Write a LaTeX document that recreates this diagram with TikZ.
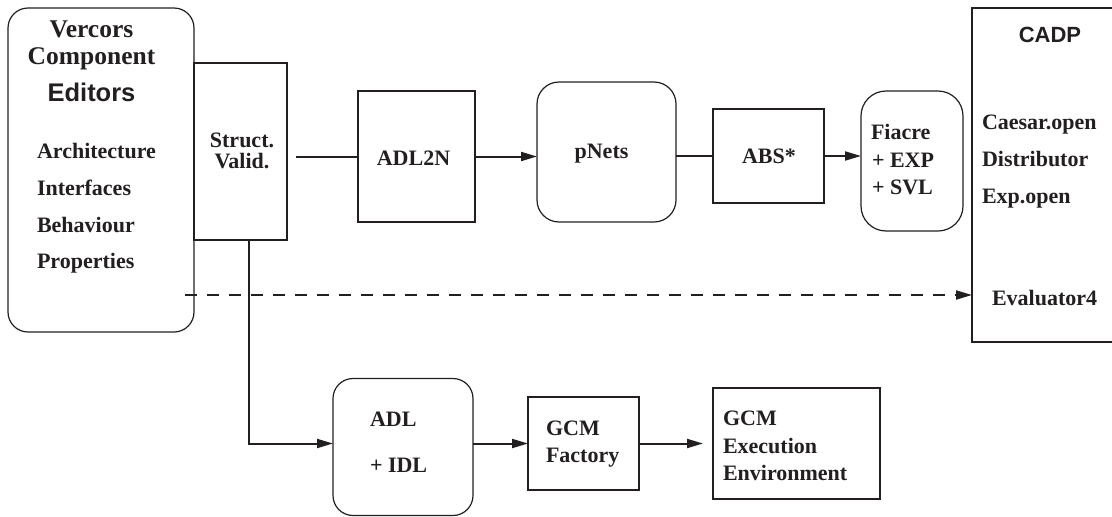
\documentclass[tikz,border=0pt]{standalone}
\usepackage{fontspec}
\setmainfont{Liberation Serif}
\newfontfamily\hsans{Liberation Sans}
\usetikzlibrary{arrows.meta}
\definecolor{ink}{RGB}{35,31,32}
\begin{document}
\begin{tikzpicture}[x=1pt,y=-1pt,
  every node/.style={inner sep=0pt,outer sep=0pt,text=ink},
  sqbox/.style={draw=ink,line width=2pt,rectangle},
  rbox/.style={draw=ink,line width=1.2pt,rectangle,rounded corners=#1},
  rbox/.default=20pt,
  txt/.style={font=\fontsize{22}{26}\selectfont\bfseries,anchor=base west},
  ttl/.style={font=\fontsize{25.5}{30}\selectfont\bfseries,anchor=base},
  conn/.style={draw=ink,line width=2pt},
  arr/.style={conn,-{Triangle[length=16pt,width=9pt]}},
  darr/.style={arr,dash pattern=on 12pt off 10pt}
]
\useasboundingbox (0,0) rectangle (1112,517);
\clip (0,0) rectangle (1112,517);
% boxes
\node[rbox=20pt,minimum width=186pt,minimum height=324pt] (ver) at (101,170) {};
\node[sqbox,minimum width=93pt,minimum height=177pt] (sv) at (240.5,151.5) {};
\node[sqbox,minimum width=117pt,minimum height=131pt] (a2n) at (416.5,156.5) {};
\node[rbox=22pt,minimum width=139pt,minimum height=140pt] (pn) at (606.5,152) {};
\node[sqbox,minimum width=111pt,minimum height=94pt] (abs) at (768.5,156) {};
\node[rbox=25pt,minimum width=102pt,minimum height=140pt] (fia) at (912,161) {};
\node[sqbox,minimum width=158pt,minimum height=334pt] (cadp) at (1051,175) {};
\node[rbox=20pt,minimum width=140pt,minimum height=137pt] (adl) at (403,447) {};
\node[sqbox,minimum width=111pt,minimum height=93pt] (gf) at (583.5,443.5) {};
\node[sqbox,minimum width=167pt,minimum height=111pt] (ge) at (796.5,443.5) {};
% texts
\node[ttl] (t1) at (91.5,37) {Vercors};
\node[ttl] (t2) at (91.5,64) {Component};
\node[ttl,font=\fontsize{25.5}{30}\selectfont\bfseries\hsans] (t3) at (91.5,101) {Editors};
\node[txt] (t4) at (37,158) {Architecture};
\node[txt] (t5) at (37,195) {Interfaces};
\node[txt] (t6) at (37,232) {Behaviour};
\node[txt] (t7) at (37,268) {Properties};
\node[txt,anchor=base] (t8) at (242,147) {Struct.};
\node[txt,anchor=base] (t9) at (242,168) {Valid.};
\node[txt,anchor=base] (t10) at (413.5,165) {ADL2N};
\node[txt,anchor=base] (t11) at (601.5,158) {pNets};
\node[txt,anchor=base] (t12) at (769,163) {ABS*};
\node[txt] (t13) at (871,139) {Fiacre};
\node[txt] (t14) at (872,167) {+ EXP};
\node[txt] (t15) at (872,194) {+ SVL};
\node[txt,anchor=base,font=\fontsize{22}{26}\selectfont\bfseries\hsans] (t16) at (1050,42) {CADP};
\node[txt] (t17) at (982,129) {Caesar.open};
\node[txt] (t18) at (982,166) {Distributor};
\node[txt] (t19) at (982,203) {Exp.open};
\node[txt] (t20) at (992,305) {Evaluator4};
\node[txt] (t21) at (370,426) {ADL};
\node[txt] (t22) at (370,472) {+ IDL};
\node[txt] (t23) at (546,435) {GCM};
\node[txt] (t24) at (546,462) {Factory};
\node[txt] (t25) at (723,425) {GCM};
\node[txt] (t26) at (723,453) {Execution};
\node[txt] (t27) at (723,480) {Environment};
% connectors
\draw[conn,shorten <=9pt] (sv.east |- a2n.west) -- (a2n.west);
\draw[arr] (a2n.east) -- (pn.west |- a2n.east);
\draw[conn] (pn.east |- abs.west) -- (abs.west);
\draw[arr] (abs.east) -- (fia.west |- abs.east);
\coordinate (ds) at (185,295);
\draw[darr] (ds) -- (cadp.west |- ds);
\draw[arr] ([xshift=8.5pt]sv.south) |- (adl.west |- gf.west);
\draw[arr] (adl.east |- gf.west) -- (gf.west);
\draw[arr,shorten >=10pt] (gf.east) -- (ge.west);
\end{tikzpicture}
\end{document}
